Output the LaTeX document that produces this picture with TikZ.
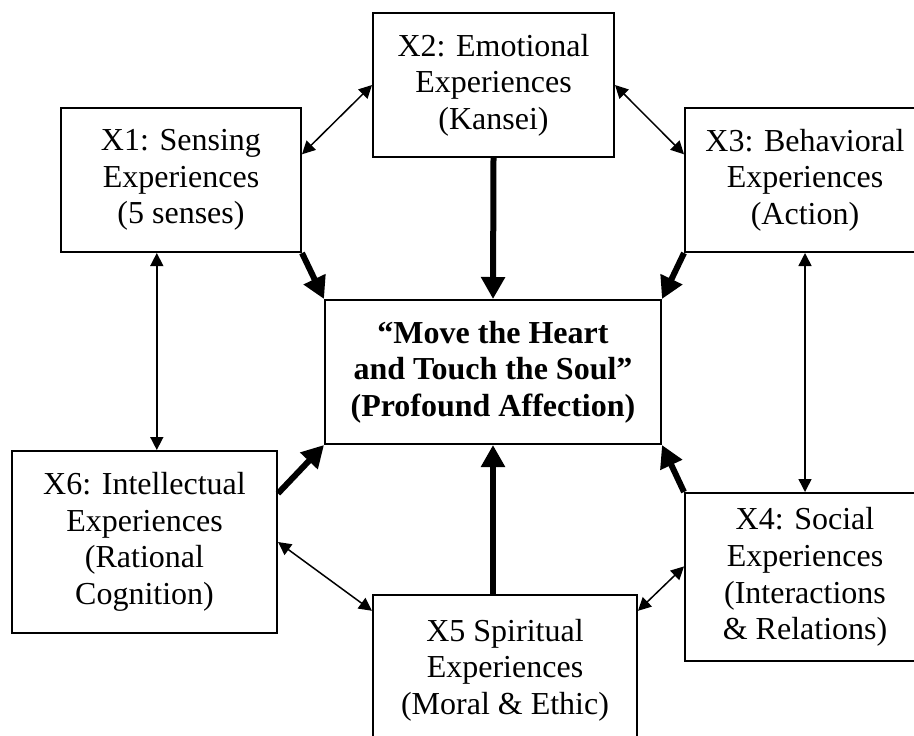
\documentclass[tikz,border=0pt]{standalone}
\usepackage{fontspec}
\setmainfont{Liberation Serif}
\usepackage{tikz}
\usetikzlibrary{arrows.meta, positioning, calc}

\begin{document}
\begin{tikzpicture}[
    x=0.5pt, y=-0.5pt,
    box/.style={draw, line width=1pt, align=center, minimum width=120pt, minimum height=72pt, inner sep=2pt},
    every node/.style={font=\fontsize{16}{18.3}\selectfont},
    link/.style={{Triangle[length=6.5pt,width=6.5pt]}-{Triangle[length=6.5pt,width=6.5pt]}, line width=0.75pt},
    feed/.style={-{Triangle[length=11pt,width=11.5pt]}, line width=3pt},
]
    \useasboundingbox (0,0) rectangle (914,735);
    \clip (0,0) rectangle (914,735);

    % Core
    \node[box, minimum width=168pt, font=\fontsize{16}{18.3}\selectfont\bfseries] (ctr) at (493,372)
        {“Move the Heart\\and Touch the Soul”\\(Profound Affection)};

    % Six experiences
    \node[box] (x1) at (181,180) {X1: Sensing\\Experiences\\(5 senses)};
    \node[box, minimum width=120.5pt] (x2) at (493.5,85) {X2: Emotional\\Experiences\\(Kansei)};
    \node[box] (x3) at (805,180) {X3: Behavioral\\Experiences\\(Action)};
    \node[box, minimum height=84pt] (x4) at (805,577) {X4: Social\\Experiences\\(Interactions\\\& Relations)};
    \node[box, minimum width=132pt, minimum height=75pt] (x5) at (505,670) {X5 Spiritual\\Experiences\\(Moral \& Ethic)};
    \node[box, minimum width=132.5pt, minimum height=91pt] (x6) at (144.5,542) {X6: Intellectual\\Experiences\\(Rational\\Cognition)};

    % Links between neighbours
    \draw[link] (x1.12) -- (x2.west);
    \draw[link] (x2.east) -- (x3.168);
    \coordinate (x1low) at ($(x1.south west)!0.4!(x1.south east)$);
    \draw[link] (x1low) -- (x1low |- x6.north);
    \draw[link] (x3.south) -- (x4.north);
    \draw[link] (x6.east) -- (x5.156);
    \draw[link] (x5.24) -- (x4.175);

    % Into the core
    \draw[feed] (x1.south east) -- (ctr.north west);
    \draw[feed] (x2.south) -- (ctr.north);
    \draw[feed] (x3.south west) -- (ctr.north east);
    \draw[feed] (x4.north west) -- (ctr.south east);
    \draw[feed] (ctr.south |- x5.north) -- (ctr.south);
    \draw[feed] (x6.20) -- (ctr.south west);
\end{tikzpicture}
\end{document}
